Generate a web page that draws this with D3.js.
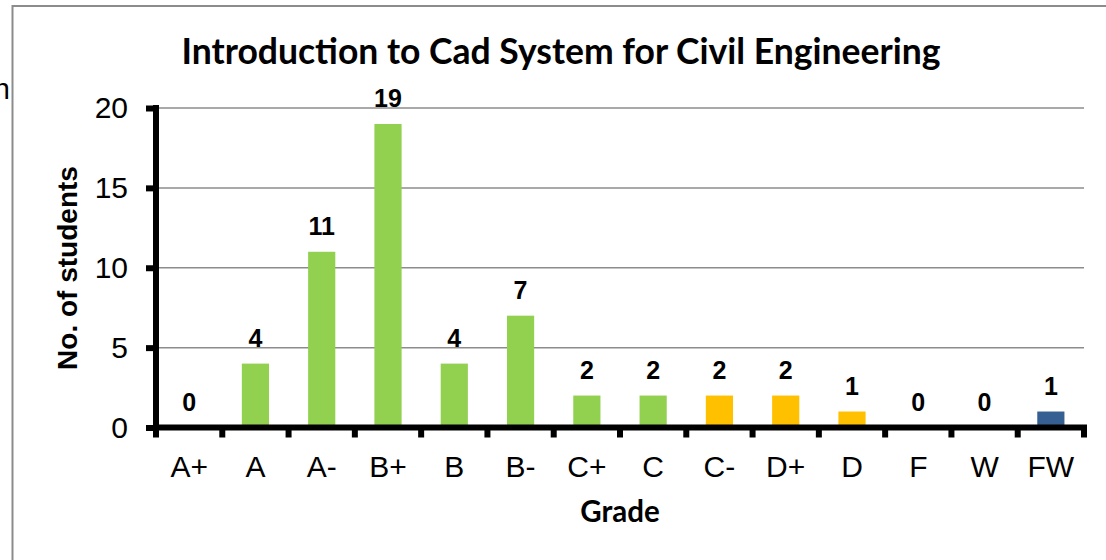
<!DOCTYPE html>
<html>
<head>
<meta charset="utf-8">
<script src="https://cdn.jsdelivr.net/npm/d3@7"></script>
<style>
  body { margin: 0; background: #fff; }
  svg { display: block; }
</style>
</head>
<body>
<div id="chart"></div>
<script>
// data
var grades = ["A+", "A", "A-", "B+", "B", "B-", "C+", "C", "C-", "D+", "D", "F", "W", "FW"];
var counts = [0, 4, 11, 19, 4, 7, 2, 2, 2, 2, 1, 0, 0, 1];
var barColors = ["#92D050", "#92D050", "#92D050", "#92D050", "#92D050", "#92D050", "#92D050", "#92D050",
                 "#FFC000", "#FFC000", "#FFC000", "#FFC000", "#FFC000", "#376092"];
var yTicks = [0, 5, 10, 15, 20];

var data = grades.map(function(g, i) { return {grade: g, count: counts[i], color: barColors[i]}; });

var W = 1106, H = 560;
var svg = d3.select("#chart").append("svg")
    .attr("width", W)
    .attr("height", H);

// outer chart frame (partly cut off)
svg.append("path")
    .attr("d", "M12.5,560 L12.5,6 L1106,6")
    .attr("fill", "none")
    .attr("stroke", "#8c8c8c")
    .attr("stroke-width", 2);

// leftover text from the page
svg.append("text")
    .attr("x", 10).attr("y", 99)
    .attr("text-anchor", "end")
    .style("font-family", "Liberation Sans, Arial, sans-serif")
    .style("font-size", "29px")
    .text("n");

var x = d3.scaleBand()
    .domain(grades)
    .range([156, 1084])
    .padding(0);

var y = d3.scaleLinear()
    .domain([0, 20])
    .range([427.5, 108]);

// gridlines
svg.append("g")
  .selectAll("line")
  .data(yTicks.filter(function(d) { return d > 0; }))
  .enter()
  .append("line")
    .attr("x1", 156).attr("x2", 1084)
    .attr("y1", function(d) { return y(d); })
    .attr("y2", function(d) { return y(d); })
    .attr("stroke", "#8c8c8c")
    .attr("stroke-width", 1.5);

// bars
var barW = x.bandwidth() * 0.41;
svg.selectAll("rect.bar")
  .data(data)
  .enter()
  .append("rect")
    .attr("class", "bar")
    .attr("x", function(d) { return x(d.grade) + (x.bandwidth() - barW) / 2; })
    .attr("y", function(d) { return y(d.count); })
    .attr("width", barW)
    .attr("height", function(d) { return y(0) - y(d.count); })
    .attr("fill", function(d) { return d.color; });

// value labels
svg.selectAll("text.val")
  .data(data)
  .enter()
  .append("text")
    .attr("class", "val")
    .attr("x", function(d) { return x(d.grade) + x.bandwidth() / 2; })
    .attr("y", function(d) { return y(d.count) - 17; })
    .attr("text-anchor", "middle")
    .style("font-family", "Liberation Sans, Arial, sans-serif")
    .style("font-weight", "bold")
    .style("font-size", "25px")
    .text(function(d) { return d.count; });

// Y axis
var yAxis = svg.append("g")
    .attr("transform", "translate(156,0)")
    .call(d3.axisLeft(y).tickValues(yTicks).tickSize(10).tickPadding(18));
yAxis.select(".domain")
    .attr("d", "M0," + (y(20) - 3) + "V" + (y(0) + 3))
    .attr("stroke", "#000")
    .attr("stroke-width", 6);
yAxis.selectAll(".tick line").attr("stroke", "#000").attr("stroke-width", 6);
yAxis.selectAll(".tick text")
    .style("font-family", "Liberation Sans, Arial, sans-serif")
    .style("font-size", "30px")
    .attr("fill", "#000");

// X axis: labels centred, ticks on category boundaries
var xAxis = svg.append("g")
    .attr("transform", "translate(0," + y(0) + ")")
    .call(d3.axisBottom(x).tickSize(0).tickPadding(28));
xAxis.select(".domain")
    .attr("d", "M153,0H1087")
    .attr("stroke", "#000")
    .attr("stroke-width", 6);
xAxis.selectAll(".tick text")
    .style("font-family", "Liberation Sans, Arial, sans-serif")
    .style("font-size", "30px")
    .attr("fill", "#000");

var bounds = grades.map(function(g) { return x(g); }).concat([x.range()[1]]);
xAxis.selectAll("line.bnd")
  .data(bounds)
  .enter()
  .append("line")
    .attr("class", "bnd")
    .attr("x1", function(d) { return d; })
    .attr("x2", function(d) { return d; })
    .attr("y1", 0).attr("y2", 10)
    .attr("stroke", "#000")
    .attr("stroke-width", 6);

// titles
svg.append("text")
    .attr("x", 561).attr("y", 64)
    .attr("text-anchor", "middle")
    .style("font-family", "Lato, sans-serif")
    .style("font-weight", "bold")
    .style("font-size", "35.5px")
    .text("Introduction to Cad System for Civil Engineering");

svg.append("text")
    .attr("x", 620).attr("y", 522)
    .attr("text-anchor", "middle")
    .style("font-family", "Lato, sans-serif")
    .style("font-weight", "bold")
    .style("font-size", "29.5px")
    .text("Grade");

svg.append("text")
    .attr("transform", "translate(77,268) rotate(-90)")
    .attr("text-anchor", "middle")
    .style("font-family", "Liberation Sans, Arial, sans-serif")
    .style("font-weight", "bold")
    .style("font-size", "28px")
    .text("No. of students");
</script>
</body>
</html>
